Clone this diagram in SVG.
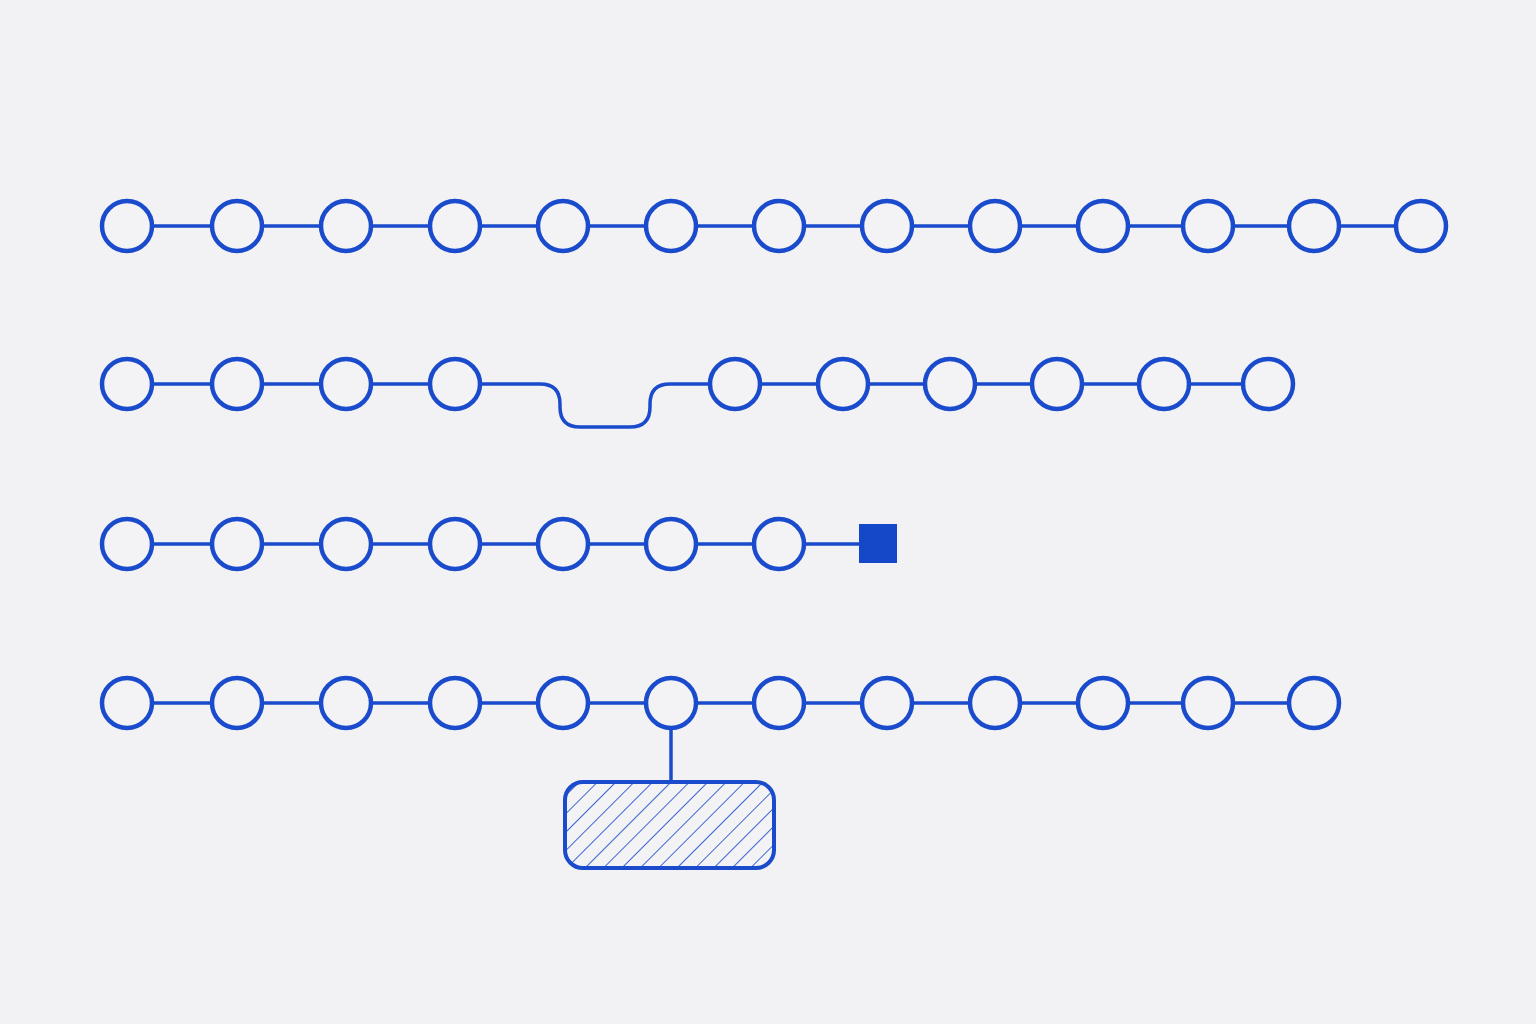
<svg xmlns="http://www.w3.org/2000/svg" width="1536" height="1024" viewBox="0 0 1536 1024">
<defs>
<style>
.n{fill:#f3f3f6;stroke:#1a4bcc;stroke-width:4.5}
.e{fill:none;stroke:#1a4bcc;stroke-width:3.5;stroke-linecap:round}
.h{stroke:#1a4bcc;stroke-width:1.7}
</style>
<pattern id="hatch" patternUnits="userSpaceOnUse" width="13" height="13" patternTransform="rotate(45)">
<line x1="0" y1="0" x2="0" y2="13" class="h"/>
</pattern>
<clipPath id="boxclip"><rect x="565" y="782" width="209" height="86" rx="18"/></clipPath>
</defs>
<rect width="1536" height="1024" fill="#f2f2f5"/>
<g id="connectors">
<path class="e" d="M127,226 H1421"/>
<path class="e" d="M127,384 H540 Q560,384 560,404 V407 Q560,427 580,427 H630 Q650,427 650,407 V404 Q650,384 670,384 H1268"/>
<path class="e" d="M127,544 H870"/>
<path class="e" d="M127,703 H1314"/>
<path class="e" d="M671,703 V782"/>
</g>
<g id="row1">
<circle id="r1n1" class="n" cx="127" cy="226" r="25"/>
<circle id="r1n2" class="n" cx="237" cy="226" r="25"/>
<circle id="r1n3" class="n" cx="346" cy="226" r="25"/>
<circle id="r1n4" class="n" cx="455" cy="226" r="25"/>
<circle id="r1n5" class="n" cx="563" cy="226" r="25"/>
<circle id="r1n6" class="n" cx="671" cy="226" r="25"/>
<circle id="r1n7" class="n" cx="779" cy="226" r="25"/>
<circle id="r1n8" class="n" cx="887" cy="226" r="25"/>
<circle id="r1n9" class="n" cx="995" cy="226" r="25"/>
<circle id="r1n10" class="n" cx="1103" cy="226" r="25"/>
<circle id="r1n11" class="n" cx="1208" cy="226" r="25"/>
<circle id="r1n12" class="n" cx="1314" cy="226" r="25"/>
<circle id="r1n13" class="n" cx="1421" cy="226" r="25"/>
</g>
<g id="row2">
<circle id="r2n1" class="n" cx="127" cy="384" r="25"/>
<circle id="r2n2" class="n" cx="237" cy="384" r="25"/>
<circle id="r2n3" class="n" cx="346" cy="384" r="25"/>
<circle id="r2n4" class="n" cx="455" cy="384" r="25"/>
<circle id="r2n5" class="n" cx="735" cy="384" r="25"/>
<circle id="r2n6" class="n" cx="843" cy="384" r="25"/>
<circle id="r2n7" class="n" cx="950" cy="384" r="25"/>
<circle id="r2n8" class="n" cx="1057" cy="384" r="25"/>
<circle id="r2n9" class="n" cx="1164" cy="384" r="25"/>
<circle id="r2n10" class="n" cx="1268" cy="384" r="25"/>
</g>
<g id="row3">
<circle id="r3n1" class="n" cx="127" cy="544" r="25"/>
<circle id="r3n2" class="n" cx="237" cy="544" r="25"/>
<circle id="r3n3" class="n" cx="346" cy="544" r="25"/>
<circle id="r3n4" class="n" cx="455" cy="544" r="25"/>
<circle id="r3n5" class="n" cx="563" cy="544" r="25"/>
<circle id="r3n6" class="n" cx="671" cy="544" r="25"/>
<circle id="r3n7" class="n" cx="779" cy="544" r="25"/>
<rect id="r3end" x="859" y="524" width="38" height="39" fill="#1448c8"/>
</g>
<g id="row4">
<circle id="r4n1" class="n" cx="127" cy="703" r="25"/>
<circle id="r4n2" class="n" cx="237" cy="703" r="25"/>
<circle id="r4n3" class="n" cx="346" cy="703" r="25"/>
<circle id="r4n4" class="n" cx="455" cy="703" r="25"/>
<circle id="r4n5" class="n" cx="563" cy="703" r="25"/>
<circle id="r4n6" class="n" cx="671" cy="703" r="25"/>
<circle id="r4n7" class="n" cx="779" cy="703" r="25"/>
<circle id="r4n8" class="n" cx="887" cy="703" r="25"/>
<circle id="r4n9" class="n" cx="995" cy="703" r="25"/>
<circle id="r4n10" class="n" cx="1103" cy="703" r="25"/>
<circle id="r4n11" class="n" cx="1208" cy="703" r="25"/>
<circle id="r4n12" class="n" cx="1314" cy="703" r="25"/>
</g>
<g id="box">
<rect x="565" y="782" width="209" height="86" rx="18" fill="#f3f3f6"/>
<rect x="565" y="782" width="209" height="86" fill="url(#hatch)" clip-path="url(#boxclip)"/>
<rect x="565" y="782" width="209" height="86" rx="18" fill="none" stroke="#1a4bcc" stroke-width="4"/>
</g>
</svg>
